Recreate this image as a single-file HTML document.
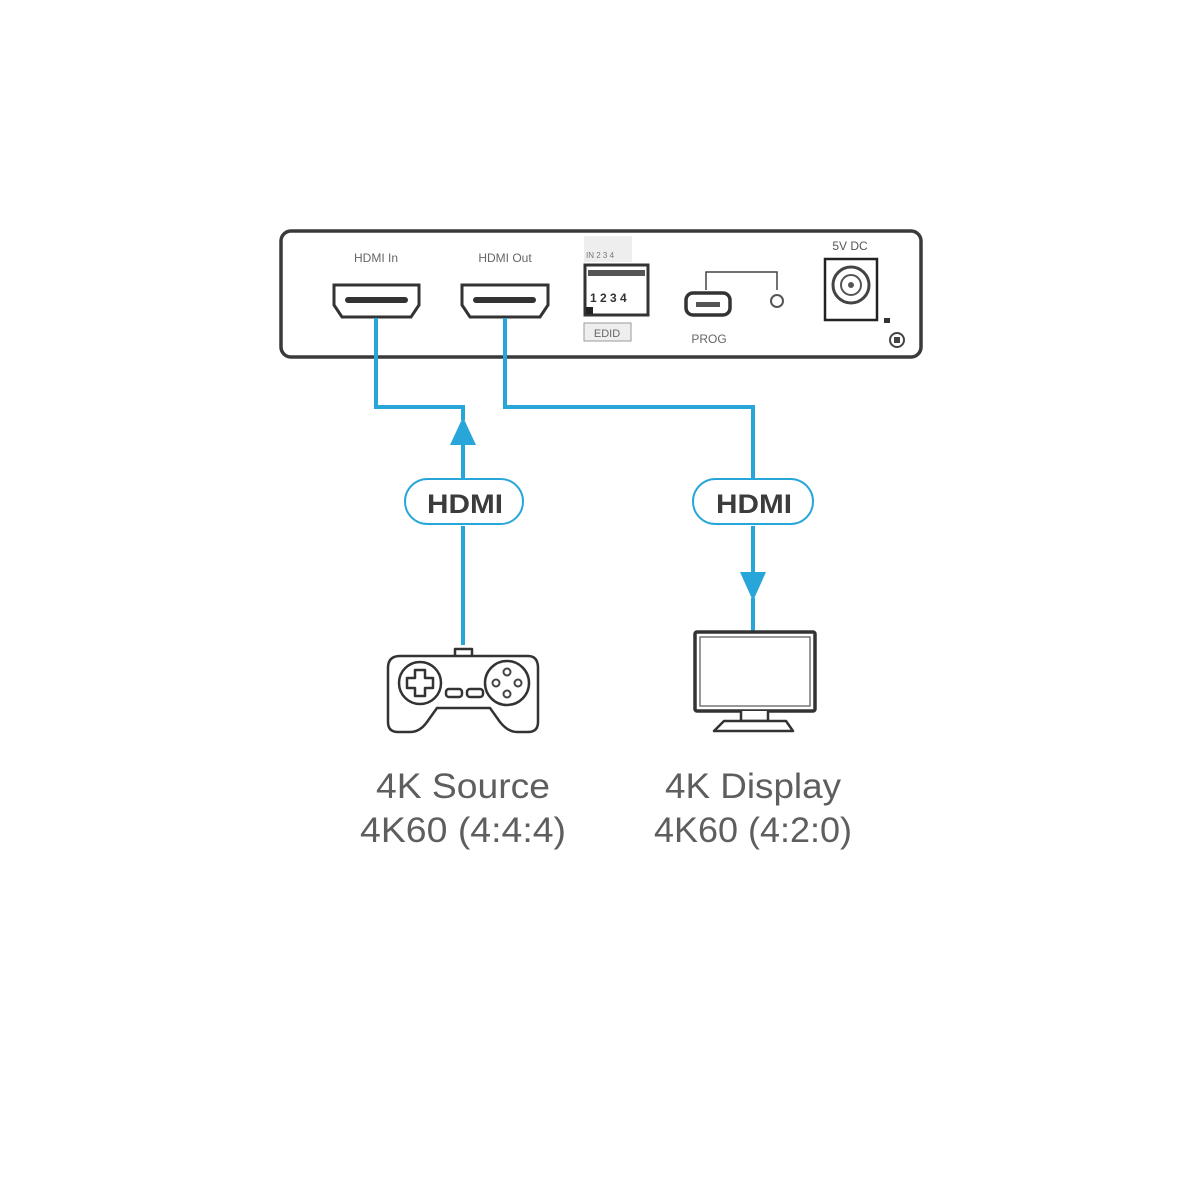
<!DOCTYPE html>
<html><head><meta charset="utf-8"><style>
html,body{margin:0;padding:0;background:#fff;}
svg{display:block}
</style></head><body>
<svg width="1200" height="1200" viewBox="0 0 1200 1200" xmlns="http://www.w3.org/2000/svg" font-family="Liberation Sans, sans-serif">
<rect width="1200" height="1200" fill="#fff"/>
<rect x="281" y="231" width="640" height="126" rx="10" fill="#fff" stroke="#3a3a3a" stroke-width="3.5"/>
<text x="376" y="262" font-size="12" fill="#666" text-anchor="middle">HDMI In</text>
<text x="505" y="262" font-size="12" fill="#666" text-anchor="middle">HDMI Out</text>
<g fill="#fff" stroke="#333" stroke-width="3">
<path d="M334 285 H419 V305 L411 317 H342 L334 305 Z"/>
<path d="M462 285 H548 V305 L540 317 H470 L462 305 Z"/>
</g>
<rect x="345" y="297" width="63" height="6" rx="3" fill="#333"/>
<rect x="473" y="297" width="63" height="6" rx="3" fill="#333"/>
<rect x="584" y="236" width="48" height="26" fill="#eee"/>
<text x="586" y="258" font-size="8" fill="#777">IN 2 3 4</text>
<rect x="585" y="265" width="63" height="50" fill="#fff" stroke="#333" stroke-width="3"/>
<rect x="588" y="270" width="57" height="6" fill="#555"/>
<text x="590" y="302" font-size="12" fill="#333" font-weight="bold">1 2 3 4</text>
<rect x="586" y="307" width="7" height="7" fill="#222"/>
<rect x="584" y="323" width="47" height="18" fill="#eee" stroke="#999"/>
<text x="607" y="337" font-size="11" fill="#666" text-anchor="middle">EDID</text>
<path d="M706 290 V272 H777 V290" fill="none" stroke="#444" stroke-width="1.5"/>
<rect x="686" y="293" width="44" height="22" rx="7" fill="#fff" stroke="#333" stroke-width="3.5"/>
<rect x="696" y="302" width="24" height="5" fill="#555"/>
<circle cx="777" cy="301" r="6" fill="#fff" stroke="#555" stroke-width="2"/>
<text x="709" y="343" font-size="12" fill="#666" text-anchor="middle">PROG</text>
<text x="850" y="250" font-size="12" fill="#555" text-anchor="middle">5V DC</text>
<rect x="825" y="259" width="52" height="61" fill="#fff" stroke="#222" stroke-width="2.5"/>
<circle cx="851" cy="285" r="18" fill="#fff" stroke="#444" stroke-width="3"/>
<circle cx="851" cy="285" r="10" fill="#fff" stroke="#555" stroke-width="2"/>
<circle cx="851" cy="285" r="3" fill="#555"/>
<rect x="884" y="318" width="6" height="5" fill="#333"/>
<circle cx="897" cy="340" r="7" fill="#fff" stroke="#444" stroke-width="2"/>
<rect x="894" y="337" width="6" height="6" fill="#444"/>
<g fill="none" stroke="#29a6d9" stroke-width="4">
<path d="M376 318 V407 H463 V420"/>
<path d="M463 440 V479"/>
<path d="M463 526 V645"/>
<path d="M505 318 V407 H753 V478"/>
<path d="M753 526 V575"/>
<path d="M753 598 V632"/>
</g>
<path d="M463 417 L476 445 H450 Z" fill="#29a6d9"/>
<path d="M753 601 L740 572 H766 Z" fill="#29a6d9"/>
<rect x="405" y="479" width="118" height="45" rx="22.5" fill="#fff" stroke="#29a6d9" stroke-width="2"/>
<rect x="693" y="479" width="120" height="45" rx="22.5" fill="#fff" stroke="#29a6d9" stroke-width="2"/>
<text x="465" y="513" font-size="27" font-weight="bold" fill="#3c3c3c" text-anchor="middle" textLength="76" lengthAdjust="spacingAndGlyphs">HDMI</text>
<text x="754" y="513" font-size="27" font-weight="bold" fill="#3c3c3c" text-anchor="middle" textLength="76" lengthAdjust="spacingAndGlyphs">HDMI</text>
<g fill="#fff" stroke="#333" stroke-width="2.5" stroke-linejoin="round">
<path d="M455 656 V649 H472 V656"/>
<path d="M400 656 H528 Q538 656 538 668 V722 Q538 732 528 732 H517 Q508 732 500 722 L490 708 H437 L427 722 Q420 732 410 732 H398 Q388 732 388 722 V668 Q388 656 400 656 Z"/>
<circle cx="420" cy="683" r="21"/>
<circle cx="507" cy="683" r="22"/>
<path d="M415 670 H425 V678 H433 V688 H425 V696 H415 V688 H407 V678 H415 Z"/>
<rect x="446" y="689" width="16" height="8" rx="3"/>
<rect x="467" y="689" width="16" height="8" rx="3"/>
</g>
<g fill="#fff" stroke="#444" stroke-width="2">
<circle cx="507" cy="672" r="3.5"/><circle cx="507" cy="694" r="3.5"/>
<circle cx="496" cy="683" r="3.5"/><circle cx="518" cy="683" r="3.5"/>
</g>
<rect x="695" y="632" width="120" height="79" rx="2" fill="#fff" stroke="#333" stroke-width="3.5"/>
<rect x="700" y="637" width="110" height="69" fill="#fff" stroke="#555" stroke-width="1.2"/>
<g fill="#fff" stroke="#333" stroke-width="2.5" stroke-linejoin="round">
<path d="M741 711 V721 H768 V711"/>
<path d="M724 721 H786 L793 731 H714 Z"/>
</g>
<g font-size="35" fill="#5e5e5e" text-anchor="middle">
<text x="463" y="798" textLength="174" lengthAdjust="spacingAndGlyphs">4K Source</text>
<text x="463" y="842" textLength="206" lengthAdjust="spacingAndGlyphs">4K60 (4:4:4)</text>
<text x="753" y="798" textLength="176" lengthAdjust="spacingAndGlyphs">4K Display</text>
<text x="753" y="842" textLength="198" lengthAdjust="spacingAndGlyphs">4K60 (4:2:0)</text>
</g>
</svg>
</body></html>
